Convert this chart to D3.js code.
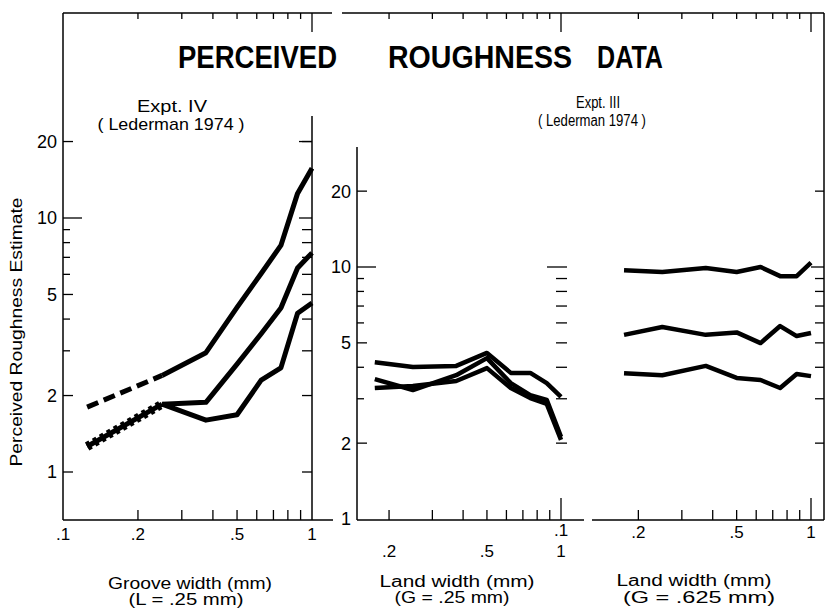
<!DOCTYPE html>
<html>
<head>
<meta charset="utf-8">
<title>Perceived Roughness Data</title>
<script src="https://d3js.org/d3.v7.min.js"></script>
<style>
  body{margin:0;background:#fff;}
  text{font-family:"Liberation Sans",Arial,Helvetica,sans-serif;fill:#000;}
</style>
</head>
<body>
<script>
var w=832, h=610;

// Expt. IV : groove width (L = .25 mm)
var grooveWidth=[0.125,0.25,0.375,0.5,0.625,0.75,0.875,1.0];
var ivTopExtrap=[1.8,2.4,null,null,null,null,null,null];
var ivTop=[null,2.4,2.95,4.45,6.05,7.8,12.5,15.7];
var ivMid=[null,1.85,1.88,2.66,3.5,4.42,6.36,7.29];
var ivLow=[null,1.85,1.6,1.68,2.3,2.57,4.22,4.63];
var ivLowExtrap=[1.26,1.85,null,null,null,null,null,null];

// Expt. III : land width
var landWidth=[0.175,0.25,0.375,0.5,0.625,0.75,0.875,1.0];
var iiiG25=[
  [4.19,4.01,4.05,4.56,3.80,3.80,3.46,3.05],
  [3.59,3.25,3.72,4.35,3.46,3.10,2.97,2.12],
  [3.31,3.37,3.53,3.97,3.31,3.02,2.86,2.06]
];
var iiiG625=[
  [9.7,9.55,9.9,9.55,10.0,9.2,9.2,10.4],
  [5.38,5.78,5.38,5.5,4.99,5.83,5.32,5.47],
  [3.79,3.72,4.05,3.63,3.56,3.31,3.76,3.69]
];

// ticks
var xTickVals=[0.2,0.3,0.4,0.5,0.6,0.7,0.8,0.9,1];
var xLabelVals=[0.1,0.2,0.5,1];
var xLabelText=[".1",".2",".5","1"];
var yLabelVals=[1,2,5,10,20];
var yLabelText=["1","2","5","10","20"];
var yMinor=[3,4,6,7,8,9];
var yAll=[1,2,3,4,5,6,7,8,9,10,20];

var svg=d3.select("body").append("svg").attr("width",w).attr("height",h);

var xL=d3.scaleLog().domain([0.1,1]).range([63,312]);
var yL=d3.scaleLog().domain([1,10]).range([472,218]);
var xM=d3.scaleLog().domain([0.1,1]).range([315,561]);
var xR=d3.scaleLog().domain([0.1,1]).range([564,811]);
var yM=d3.scaleLog().domain([1,10]).range([519,267]);

function seg(x1,y1,x2,y2,sw){
  svg.append("line").attr("x1",x1).attr("y1",y1).attr("x2",x2).attr("y2",y2)
     .attr("stroke","#000").attr("stroke-width",sw||1.5);
}
function txt(x,y,s,size,anchor,len){
  var t=svg.append("text").attr("x",x).attr("y",y).attr("font-size",size)
     .attr("text-anchor",anchor||"middle").text(s);
  if(len){t.attr("textLength",len).attr("lengthAdjust","spacingAndGlyphs");}
  return t;
}

// frame / axis lines
seg(63,13,332,13); seg(342,13,824,13);
seg(63,13,63,520); seg(63,520,333,520);
seg(312,116,312,520);
seg(357,147,357,520); seg(357,520,584,520); seg(592,520,824,520);
seg(824,13,824,520);

// x ticks, top and bottom
[xL,xM,xR].forEach(function(sx,k){
  xTickVals.forEach(function(v){
    seg(sx(v),13,sx(v),v===1?32:19,1.3);
    if(v<1){ seg(sx(v),520,sx(v),510,1.3); }
    else if(k>0){ seg(sx(v),520,sx(v),498,1.3); }
  });
});

// y ticks
function yTicks(sy,x,dir,vals,len,bigLen){
  vals.forEach(function(v){
    var l=(v===10)?bigLen:len;
    seg(x,sy(v),x+dir*l,sy(v),1.3);
  });
}
// left panel left axis
yTicks(yL,63,1,[1,2,5,20],10,10); yTicks(yL,63,1,[10],19,19); yTicks(yL,63,1,yMinor,7,7);
// left panel right axis
yTicks(yL,312,-1,yAll,10,13); yTicks(yL,312,-1,[20],13,13);
// middle panel left axis
yTicks(yM,357,1,[2,5,20],10,10); yTicks(yM,357,1,[10],19,19); yTicks(yM,357,1,yMinor,7,7);
// middle panel floating ticks
yTicks(yM,567,-1,[2,3,4,5,6,7,8,9,10],11,20);
// right panel right axis
yTicks(yM,824,-1,[2,3,4,5,6,7,8,9,10,20],9,13);

// y labels
yLabelVals.forEach(function(v,i){
  txt(57,yL(v),yLabelText[i],18,"end").attr("dy","0.36em");
  txt(351,yM(v),yLabelText[i],18,"end").attr("dy","0.36em");
});

// x labels
xLabelVals.forEach(function(v,i){
  txt(xL(v),540,xLabelText[i],17);
  if(v>0.1){ txt(xM(v),557,xLabelText[i],17); txt(xR(v),538,xLabelText[i],17); }
});
txt(xM(1),536,".1",17);

// title
svg.append("g").attr("font-weight","bold").call(function(g){
  [["PERCEIVED",178,159],["ROUGHNESS",388,184],["DATA",597,66]].forEach(function(d){
    g.append("text").attr("x",d[1]).attr("y",68).attr("font-size",32)
     .attr("textLength",d[2]).attr("lengthAdjust","spacingAndGlyphs").text(d[0]);
  });
});

// panel captions
txt(172,112,"Expt.  IV",17,"middle",70);
txt(171,130,"( Lederman  1974 )",17,"middle",147);
txt(598,108,"Expt.  III",16,"middle",44);
txt(592,126,"( Lederman  1974 )",16,"middle",108);

// axis titles
txt(0,0,"Perceived  Roughness  Estimate",16,"middle",269)
  .attr("transform","translate(22,332) rotate(-90)");
txt(190,589,"Groove  width  (mm)",16,"middle",164);
txt(186,605,"(L  =  .25  mm)",16,"middle",115);
txt(457,587,"Land  width     (mm)",16,"middle",155);
txt(452,603,"(G  =  .25  mm)",16,"middle",115);
txt(694,586,"Land  width     (mm)",16,"middle",155);
txt(699,603,"(G  =  .625  mm)",16,"middle",152);

// data lines
function draw(sx,sy,xs,ys,sw,dash){
  var pts=xs.map(function(x,i){return [x,ys[i]];});
  var ln=d3.line().defined(function(d){return d[1]!=null;})
           .x(function(d){return sx(d[0]);}).y(function(d){return sy(d[1]);});
  var p=svg.append("path").attr("d",ln(pts)).attr("fill","none")
     .attr("stroke","#000").attr("stroke-width",sw)
     .attr("stroke-linejoin","round");
  if(dash){p.attr("stroke-dasharray",dash);}
  return p;
}
draw(xL,yL,grooveWidth,ivTopExtrap,5,"12,6");
draw(xL,yL,grooveWidth,ivTop,5);
draw(xL,yL,grooveWidth,ivMid,5);
draw(xL,yL,grooveWidth,ivLow,5);
draw(xL,yL,grooveWidth,ivLowExtrap,5);
draw(xL,yL,grooveWidth,ivLowExtrap,9,"4,4");

iiiG25.forEach(function(s){ draw(xM,yM,landWidth,s,4.5); });
iiiG625.forEach(function(s){ draw(xR,yM,landWidth,s,4.5); });
</script>
</body>
</html>
